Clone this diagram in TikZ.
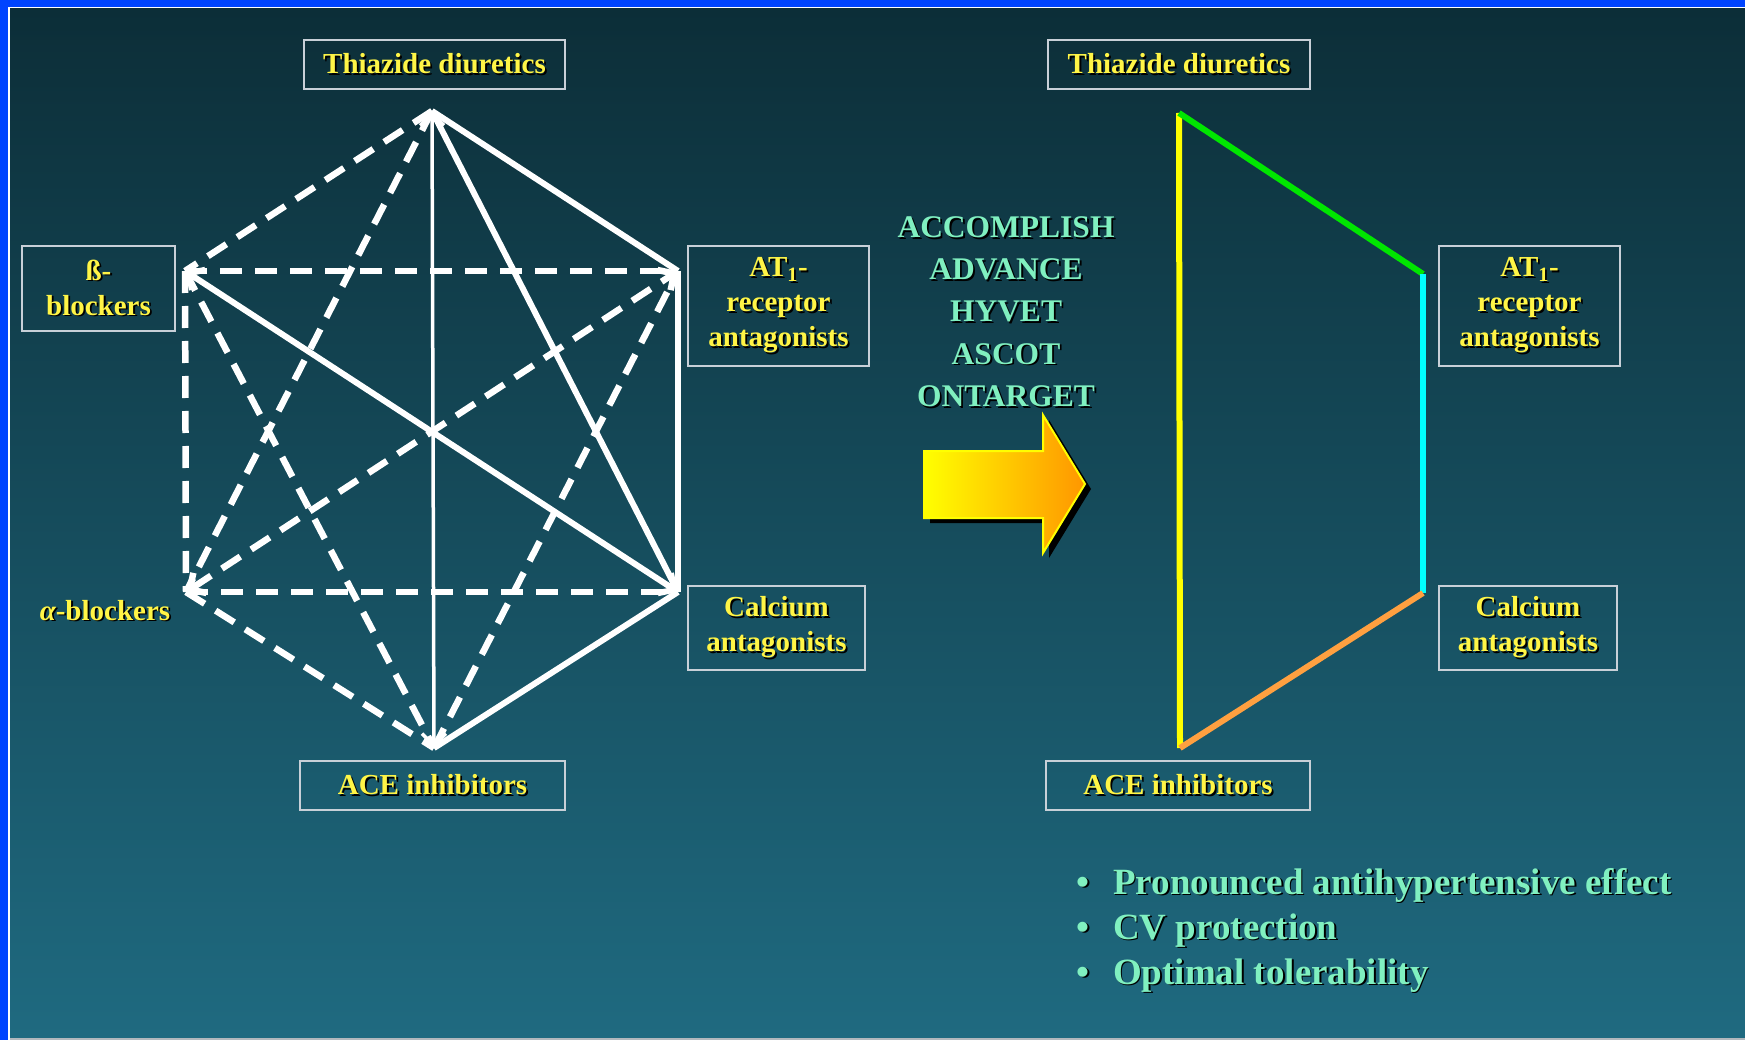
\documentclass[tikz,border=0pt]{standalone}
\usepackage{fontspec}
\setmainfont{Liberation Serif}
\usetikzlibrary{arrows.meta}

\definecolor{frameblue}{RGB}{0,68,255}
\definecolor{bgtop}{RGB}{12,46,56}
\definecolor{bgbot}{RGB}{31,106,128}
\definecolor{lblyellow}{RGB}{255,245,70}
\definecolor{mint}{RGB}{128,240,192}
\definecolor{boxline}{RGB}{200,208,216}
\definecolor{linegreen}{RGB}{0,230,0}
\definecolor{linecyan}{RGB}{0,255,255}
\definecolor{lineorange}{RGB}{255,160,64}
\definecolor{arrowyellow}{RGB}{255,255,0}
\definecolor{arroworange}{RGB}{255,150,0}

% text with a dark drop shadow
\newcommand\dropsh[1]{\leavevmode\rlap{\raisebox{-1.8pt}{\hspace{1.8pt}\color{black}#1}}#1}

\tikzset{
  drug/.style={draw=boxline, line width=1.5pt, text=lblyellow, align=center,
    font=\fontsize{29}{35}\selectfont\bfseries, inner sep=0pt},
  trial/.style={text=mint, font=\fontsize{31.5}{42}\selectfont\bfseries, inner sep=0pt},
  effect/.style={text=mint, font=\fontsize{37}{45}\selectfont\bfseries, inner sep=0pt},
  pref/.style={white, line width=6pt},
  other/.style={white, line width=6.5pt, dash pattern=on 22pt off 13pt},
  side/.style={line width=6pt},
  >={Straight Barb[length=12pt,width=24pt]},
}

\begin{document}
\begin{tikzpicture}[x=1pt, y=-1pt]
  % frame and background
  \fill[frameblue] (0,0) rectangle (1745,1040);
  \fill[white] (8,7) rectangle (1745,1040);
  \shade[top color=bgtop, bottom color=bgbot] (10,9) rectangle (1745,1037);
  \fill[boxline!70!gray] (10,1037.5) rectangle (1745,1040);

  % left hexagon
  \coordinate (lT) at (432,111);
  \coordinate (lB) at (185,271);
  \coordinate (lA) at (678,271);
  \coordinate (lAl) at (186,592);
  \coordinate (lC) at (678,592);
  \coordinate (lE) at (434,748);

  \draw[other] (lT) -- (lB);
  \draw[other] (lT) -- (lAl);
  \draw[other] (lB) -- (lA);
  \draw[other] (lB) -- (lAl);
  \draw[other] (lB) -- (lE);
  \draw[other] (lAl) -- (lC);
  \draw[other] (lAl) -- (lE);
  \draw[other] (lE) -- (lA);
  \draw[other,<->] (lAl) -- (lA);

  \draw[pref] (lT) -- (lA);
  \draw[pref] (lT) -- (lC);
  \draw[pref] (lA) -- (lC);
  \draw[pref] (lC) -- (lE);
  \draw[pref,<->] (lC) -- (lB);
  \draw[pref,line width=3.5pt,<->] (lT) -- (lE);

  \node[drug, minimum width=261pt, minimum height=49pt] (lThz) at (434.5,64.5) {\dropsh{Thiazide diuretics}};
  \node[drug, minimum width=153pt, minimum height=85pt] (lBeta) at (98.5,288.5) {\dropsh{ß-}\\\dropsh{blockers}};
  \node[drug, minimum width=181pt, minimum height=120pt] (lAT) at (778.5,306)
    {\dropsh{AT\textsubscript{1}-}\\\dropsh{receptor}\\\dropsh{antagonists}};
  \node[drug, draw=none] (lAlpha) at (105,611) {\dropsh{{\itshape α}-blockers}};
  \node[drug, minimum width=177pt, minimum height=84pt] (lCa) at (776.5,628) {\dropsh{Calcium}\\\dropsh{antagonists}};
  \node[drug, minimum width=265pt, minimum height=49pt] (lACE) at (432.5,785.5) {\dropsh{ACE inhibitors}};

  % trials and arrow
  \foreach \t [count=\i] in {ACCOMPLISH,ADVANCE,HYVET,ASCOT,ONTARGET}
    \node[trial, anchor=base] (trial\i) at (1006,195+42.3*\i) {\dropsh{\t}};

  \fill[black, shift={(6,5)}] (924,451) -- (1043,451) -- (1043,415) -- (1085,484)
    -- (1043,553) -- (1043,518) -- (924,518) -- cycle;
  \shadedraw[left color=arrowyellow, middle color=arrowyellow!50!arroworange, right color=arroworange,
    draw=arrowyellow, line width=2pt] (924,451) -- (1043,451) -- (1043,415) -- (1085,484)
    -- (1043,553) -- (1043,518) -- (924,518) -- cycle;

  % right side
  \coordinate (rT) at (1179,113);
  \coordinate (rA) at (1423,274);
  \coordinate (rC) at (1423,593);
  \coordinate (rE) at (1180,748);

  \draw[side, arrowyellow] (rT) -- (rE);
  \draw[side, linegreen] (rT) -- (rA);
  \draw[side, linecyan] (rA) -- (rC);
  \draw[side, lineorange] (rC) -- (rE);

  \node[drug, minimum width=262pt, minimum height=49pt] (rThz) at (1179,64.5) {\dropsh{Thiazide diuretics}};
  \node[drug, minimum width=181pt, minimum height=120pt] (rAT) at (1529.5,306)
    {\dropsh{AT\textsubscript{1}-}\\\dropsh{receptor}\\\dropsh{antagonists}};
  \node[drug, minimum width=178pt, minimum height=84pt] (rCa) at (1528,628) {\dropsh{Calcium}\\\dropsh{antagonists}};
  \node[drug, minimum width=264pt, minimum height=49pt] (rACE) at (1178,785.5) {\dropsh{ACE inhibitors}};

  % benefits
  \foreach \t [count=\i] in {Pronounced antihypertensive effect,CV protection,Optimal tolerability}
    \node[effect, anchor=base west] (effect\i) at (1076,849+45*\i) {\dropsh{\textbullet}\hspace{24pt}\dropsh{\t}};
\end{tikzpicture}
\end{document}
